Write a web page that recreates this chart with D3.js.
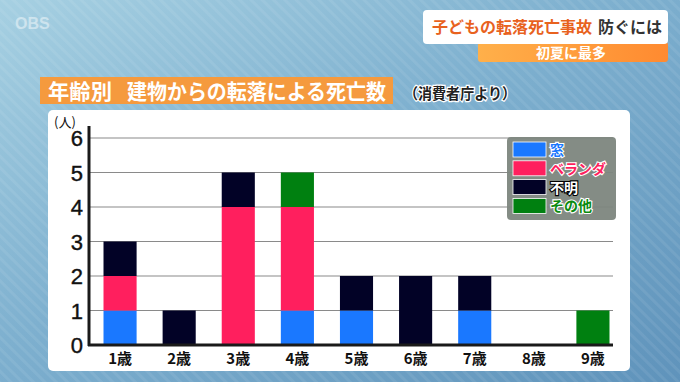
<!DOCTYPE html>
<html><head><meta charset="utf-8">
<script src="https://cdn.jsdelivr.net/npm/d3@7"></script>
<style>html,body{margin:0;padding:0;overflow:hidden;background:#6f9fc2}</style>
</head><body>
<svg id="c" width="680" height="382"></svg>
<script>
const ages = ["1歳","2歳","3歳","4歳","5歳","6歳","7歳","8歳","9歳"];
const seriesNames = ["窓","ベランダ","不明","その他"];
const windowVals = [1,0,0,1,1,0,1,0,0];
const verandaVals = [1,0,4,3,0,0,0,0,0];
const unknownVals = [1,1,1,0,1,2,1,0,0];
const otherVals = [0,0,0,1,0,0,0,0,1];
const yTicks = [0,1,2,3,4,5,6];
const colors = ["#1a78ff","#ff1f5e","#020226","#008010"];
const legendText = ["#1a78ff","#ff1f5e","#ffffff","#0a8a10"];
const legendStroke = ["#ffffff","#ffffff","#000000","#ffffff"];

const svg = d3.select("#c");
const defs = svg.append("defs");
const bg = defs.append("linearGradient").attr("id","bg").attr("x1","0").attr("y1","0").attr("x2","1").attr("y2","1");
bg.append("stop").attr("offset","0").attr("stop-color","#a6d0e2");
bg.append("stop").attr("offset","0.45").attr("stop-color","#7eb0cf");
bg.append("stop").attr("offset","1").attr("stop-color","#5f93bb");
const pat = defs.append("pattern").attr("id","stripes").attr("width",8).attr("height",8)
  .attr("patternUnits","userSpaceOnUse").attr("patternTransform","rotate(-45)");
pat.append("rect").attr("width",3).attr("height",8).attr("fill","#ffffff").attr("opacity",0.07);
const og = defs.append("linearGradient").attr("id","og").attr("x1","0").attr("x2","1");
og.append("stop").attr("offset","0").attr("stop-color","#ffb04a");
og.append("stop").attr("offset","1").attr("stop-color","#ff8a30");

svg.append("rect").attr("width",680).attr("height",382).attr("fill","url(#bg)");
svg.append("rect").attr("width",680).attr("height",382).attr("fill","url(#stripes)");

// logo
svg.append("text").attr("x",15).attr("y",29).text("OBS")
  .attr("font-family","Liberation Sans, Arial").attr("font-weight","bold").attr("font-size",16)
  .attr("fill","#ffffff").attr("opacity",0.45);

// top right caption
svg.append("rect").attr("x",478).attr("y",42).attr("width",190).attr("height",20).attr("rx",3).attr("fill","url(#og)");
svg.append("rect").attr("x",423).attr("y",10).attr("width",245).attr("height",34).attr("rx",4).attr("fill","#ffffff");
svg.append("text").attr("x",432).attr("y",33).text("子どもの転落死亡事故")
  .attr("font-family","Noto Sans CJK JP").attr("font-weight","bold").attr("font-size",16).attr("fill","#e8621e");
svg.append("text").attr("x",598).attr("y",33).text("防ぐには")
  .attr("font-family","Noto Sans CJK JP").attr("font-weight","bold").attr("font-size",16).attr("fill","#333333");
svg.append("text").attr("x",571).attr("y",58).attr("text-anchor","middle").text("初夏に最多")
  .attr("font-family","Noto Sans CJK JP").attr("font-weight","bold").attr("font-size",14).attr("fill","#ffffff");

// chart title
svg.append("rect").attr("x",40).attr("y",77).attr("width",353).attr("height",27).attr("fill","#f59a3e");
svg.append("text").attr("x",48).attr("y",99).text("年齢別")
  .attr("textLength",64).attr("lengthAdjust","spacingAndGlyphs")
  .attr("font-family","Noto Sans CJK JP").attr("font-weight","bold").attr("font-size",21).attr("fill","#ffffff");
svg.append("text").attr("x",127).attr("y",99).text("建物からの転落による死亡数")
  .attr("textLength",259).attr("lengthAdjust","spacingAndGlyphs")
  .attr("font-family","Noto Sans CJK JP").attr("font-weight","bold").attr("font-size",21).attr("fill","#ffffff");
svg.append("text").attr("x",404).attr("y",99).text("（消費者庁より）")
  .attr("textLength",112).attr("lengthAdjust","spacingAndGlyphs")
  .attr("font-family","Noto Sans CJK JP").attr("font-weight","bold").attr("font-size",15)
  .attr("fill","#222").attr("stroke","#ffffff").attr("stroke-width",2.5).attr("paint-order","stroke");

// panel
svg.append("rect").attr("x",48).attr("y",110).attr("width",582).attr("height",261).attr("rx",5).attr("fill","#ffffff");

// scales
const x = d3.scaleBand().domain(ages).range([90.5,622.5]).paddingInner(0.44).paddingOuter(0.22);
const y = d3.scaleLinear().domain([0,6]).range([345,138]);

// gridlines
svg.append("g").selectAll("line").data(yTicks.filter(d=>d>0)).join("line")
  .attr("x1",89).attr("x2",613).attr("y1",d=>y(d)).attr("y2",d=>y(d))
  .attr("stroke","#8a8a8a").attr("stroke-width",1.2);

// stacked bars
const rows = ages.map((a,i)=>({age:a, "窓":windowVals[i], "ベランダ":verandaVals[i], "不明":unknownVals[i], "その他":otherVals[i]}));
const stack = d3.stack().keys(seriesNames)(rows);
svg.append("g").selectAll("g").data(stack).join("g").attr("fill",(d,i)=>colors[i])
  .selectAll("rect").data(d=>d).join("rect")
  .attr("x",d=>x(d.data.age)).attr("width",x.bandwidth())
  .attr("y",d=>y(d[1])).attr("height",d=>y(d[0])-y(d[1]));

// axes
const yAxis = d3.axisLeft(y).tickValues(yTicks).tickSize(0).tickPadding(6).tickFormat(d3.format("d"));
const gy = svg.append("g").attr("transform","translate(89,0)").call(yAxis);
gy.select(".domain").remove();
gy.selectAll("text").attr("font-family","Liberation Sans, Arial").attr("font-size",22).attr("fill","#111").attr("dy","0.36em")
  .attr("stroke","#111").attr("stroke-width",0.4);
svg.append("line").attr("x1",89).attr("x2",89).attr("y1",126).attr("y2",346).attr("stroke","#1a1a1a").attr("stroke-width",3);
const xAxis = d3.axisBottom(x).tickSize(0).tickPadding(6);
const gx = svg.append("g").attr("transform","translate(0,345)").call(xAxis);
gx.select(".domain").remove();
gx.selectAll("text").attr("font-family","Noto Sans CJK JP").attr("font-weight","bold").attr("font-size",15).attr("fill","#111").attr("dy","0.85em");
svg.append("line").attr("x1",88).attr("x2",613).attr("y1",345).attr("y2",345).attr("stroke","#1a1a1a").attr("stroke-width",3);

svg.append("text").attr("x",54).attr("y",127).text("(人)")
  .attr("font-family","Noto Sans CJK JP").attr("font-size",13).attr("fill","#111");

// legend
const lg = svg.append("g").attr("transform","translate(507,137)");
lg.append("rect").attr("width",109).attr("height",83).attr("rx",4).attr("fill","#7d867e").attr("opacity",0.95);
const items = lg.selectAll("g").data(seriesNames).join("g").attr("transform",(d,i)=>`translate(6,${5+i*18.8})`);
items.append("rect").attr("width",33).attr("height",15).attr("fill",(d,i)=>colors[i]).attr("stroke","#ffffff").attr("stroke-width",0.8);
items.append("text").attr("x",37).attr("y",13).text(d=>d)
  .attr("font-family","Noto Sans CJK JP").attr("font-weight","bold").attr("font-size",14)
  .attr("fill",(d,i)=>legendText[i]).attr("stroke",(d,i)=>legendStroke[i]).attr("stroke-width",2.2).attr("paint-order","stroke");
</script>
</body></html>
